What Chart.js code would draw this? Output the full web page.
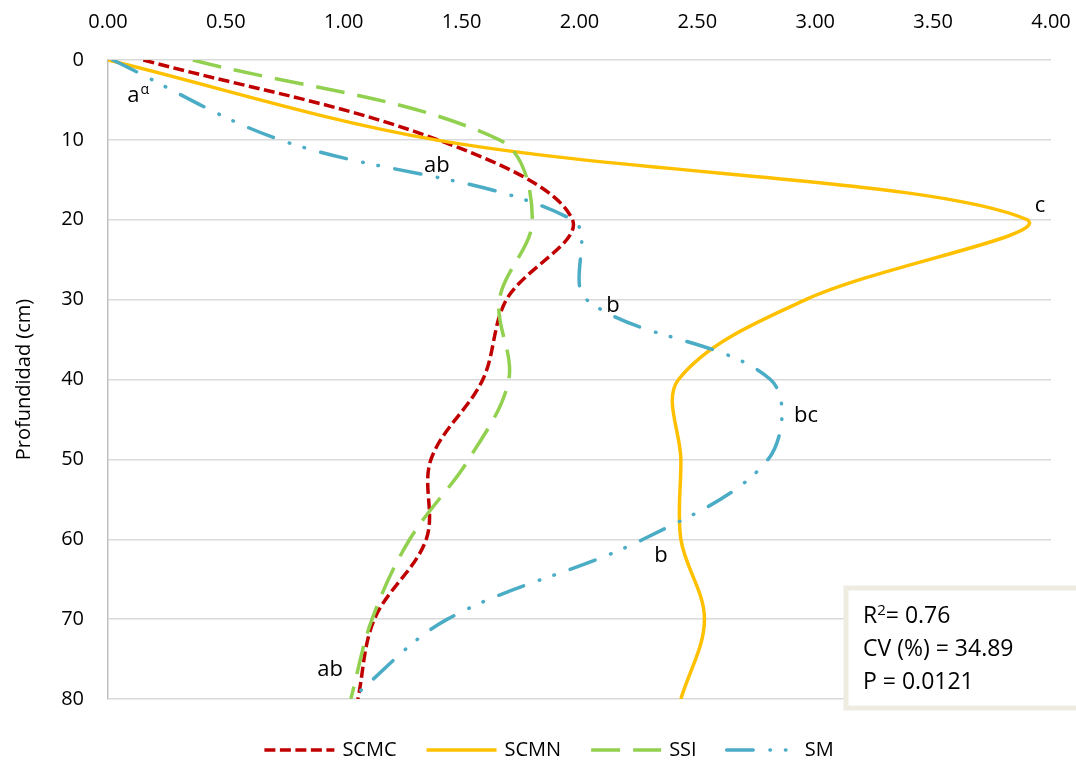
<!DOCTYPE html>
<html lang="es">
<head>
<meta charset="utf-8">
<title>Profundidad</title>
<script src="https://cdn.jsdelivr.net/npm/chart.js@4.4.1/dist/chart.umd.min.js"></script>
<style>
  html, body { margin: 0; padding: 0; background: #fff; }
  #wrap { width: 1076px; height: 760px; }
</style>
</head>
<body>
<div id="wrap"><canvas id="chart" width="1076" height="760"></canvas></div>
<script>
(function () {
  "use strict";

  // depth (cm) for every reading
  var depths = [0, 10, 20, 30, 40, 50, 60, 70, 80];

  // series values along the horizontal axis
  var scmc = [0.15, 1.40, 1.97, 1.69, 1.59, 1.37, 1.35, 1.13, 1.06];
  var scmn = [0.00, 1.39, 3.90, 2.96, 2.42, 2.43, 2.43, 2.53, 2.43];
  var ssi = [0.36, 1.66, 1.80, 1.66, 1.70, 1.53, 1.28, 1.12, 1.03];
  var sm = [0.02, 0.73, 1.97, 2.03, 2.81, 2.80, 2.27, 1.44, 1.03];

  var xTickValues = [0, 0.5, 1, 1.5, 2, 2.5, 3, 3.5, 4];
  var xTickLabels = ["0.00", "0.50", "1.00", "1.50", "2.00", "2.50", "3.00", "3.50", "4.00"];
  var depthTickValues = [0, 10, 20, 30, 40, 50, 60, 70, 80];
  var depthTickLabels = ["0", "10", "20", "30", "40", "50", "60", "70", "80"];

  // significance letters, placed in data units
  var letters = [
    { text: "a", sup: "\u03b1", x: 0.082, y: 5.3 },
    { text: "ab", x: 1.395, y: 14.0 },
    { text: "c", x: 3.953, y: 19.0 },
    { text: "b", x: 2.142, y: 31.5 },
    { text: "bc", x: 2.961, y: 45.3 },
    { text: "b", x: 2.346, y: 62.8 },
    { text: "ab", x: 0.942, y: 77.1 }
  ];

  var statLines = [
    { main: "R", sup: "2", rest: "= 0.76" },
    { main: "CV (%) = 34.89" },
    { main: "P = 0.0121" }
  ];

  var FONT = "'Open Sans', sans-serif";
  Chart.defaults.font.family = FONT;
  Chart.defaults.color = "#000";

  function series(values) {
    return values.map(function (v, i) { return { x: v, y: depths[i] }; });
  }

  var lettersPlugin = {
    id: "letters",
    afterDatasetsDraw: function (chart) {
      var ctx = chart.ctx;
      var xs = chart.scales.x;
      var ys = chart.scales.y;
      ctx.save();
      ctx.fillStyle = "#000";
      ctx.textBaseline = "alphabetic";
      letters.forEach(function (l) {
        var px = xs.getPixelForValue(l.x);
        var py = ys.getPixelForValue(l.y);
        ctx.font = "22px " + FONT;
        if (l.sup) {
          ctx.textAlign = "left";
          ctx.fillText(l.text, px, py);
          var w = ctx.measureText(l.text).width;
          ctx.font = "14px " + FONT;
          ctx.fillText(l.sup, px + w + 1, py - 8);
        } else {
          ctx.textAlign = "center";
          ctx.fillText(l.text, px, py);
        }
      });
      ctx.restore();
    }
  };

  var statsPlugin = {
    id: "statsBox",
    afterDraw: function (chart) {
      var ctx = chart.ctx;
      var area = chart.chartArea;
      var left = area.right - 205;
      var top = area.bottom - 111;
      ctx.save();
      ctx.fillStyle = "#fff";
      ctx.strokeStyle = "#EEECE1";
      ctx.lineWidth = 5;
      ctx.fillRect(left, top, 260, 120);
      ctx.strokeRect(left, top, 260, 120);
      ctx.fillStyle = "#000";
      ctx.textAlign = "left";
      ctx.textBaseline = "alphabetic";
      statLines.forEach(function (line, i) {
        var tx = left + 17;
        var ty = top + 35 + i * 33;
        ctx.font = "23px " + FONT;
        ctx.fillText(line.main, tx, ty);
        if (line.sup) {
          tx += ctx.measureText(line.main).width;
          ctx.font = "15px " + FONT;
          ctx.fillText(line.sup, tx, ty - 8);
          tx += ctx.measureText(line.sup).width;
          ctx.font = "23px " + FONT;
          ctx.fillText(line.rest, tx, ty);
        }
      });
      ctx.restore();
    }
  };

  var legendPlugin = {
    id: "bottomLegend",
    afterDraw: function (chart) {
      var ctx = chart.ctx;
      var sets = chart.data.datasets;
      var lineLen = 70, textGap = 8, itemGap = 30;
      ctx.save();
      ctx.font = "20px " + FONT;
      var total = 0;
      sets.forEach(function (ds, i) {
        total += lineLen + textGap + ctx.measureText(ds.label).width;
        if (i < sets.length - 1) total += itemGap;
      });
      var x = 549 - total / 2;
      var y = 750;
      sets.forEach(function (ds) {
        ctx.beginPath();
        ctx.strokeStyle = ds.borderColor;
        ctx.lineWidth = ds.borderWidth;
        ctx.lineCap = ds.borderCapStyle || "butt";
        ctx.setLineDash(ds.borderDash || []);
        ctx.moveTo(x, y);
        ctx.lineTo(x + lineLen, y);
        ctx.stroke();
        ctx.setLineDash([]);
        x += lineLen + textGap;
        ctx.fillStyle = "#000";
        ctx.textAlign = "left";
        ctx.textBaseline = "middle";
        ctx.fillText(ds.label, x, y);
        x += ctx.measureText(ds.label).width + itemGap;
      });
      ctx.restore();
    }
  };

  new Chart(document.getElementById("chart"), {
    type: "scatter",
    data: {
      datasets: [
        { label: "SCMC", data: series(scmc), showLine: true, borderColor: "#C00000", borderWidth: 3.5, borderDash: [11, 4.5], order: 3 },
        { label: "SCMN", data: series(scmn), showLine: true, borderColor: "#FFC000", borderWidth: 3.5, order: 2 },
        { label: "SSI", data: series(ssi), showLine: true, borderColor: "#92D050", borderWidth: 3.5, borderDash: [29, 13], order: 1 },
        { label: "SM", data: series(sm), showLine: true, borderColor: "#4BACC6", borderWidth: 3.5, borderDash: [26.5, 16.75, 0.5, 15, 0.5, 16.75], borderCapStyle: "round", order: 0 }
      ]
    },
    options: {
      responsive: false,
      animation: false,
      events: [],
      elements: {
        point: { radius: 0, hoverRadius: 0 },
        line: { tension: 0.35, fill: false }
      },
      layout: { padding: { left: 0, right: 25, top: 0, bottom: 61 } },
      plugins: {
        legend: { display: false },
        tooltip: { enabled: false }
      },
      scales: {
        x: {
          type: "linear",
          position: "top",
          min: 0,
          max: 4,
          grid: { display: false },
          border: { display: false },
          ticks: {
            stepSize: 0.5,
            autoSkip: false,
            maxRotation: 0,
            padding: 18,
            font: { size: 20 },
            color: "#000",
            callback: function (v) { return xTickLabels[xTickValues.indexOf(v)]; }
          },
          afterFit: function (scale) {
            scale.height = 60;
            scale.paddingLeft = 0;
            scale.paddingRight = 0;
          }
        },
        y: {
          type: "linear",
          reverse: true,
          min: 0,
          max: 80,
          grid: { color: "#D9D9D9", lineWidth: 1.5, drawTicks: false },
          border: { display: true, color: "#BFBFBF", width: 1.5 },
          ticks: {
            stepSize: 10,
            padding: 24,
            font: { size: 20 },
            color: "#000",
            callback: function (v) { return depthTickLabels[depthTickValues.indexOf(v)]; }
          },
          title: {
            display: true,
            text: "Profundidad (cm)",
            font: { size: 20 },
            color: "#000",
            padding: { top: 12, bottom: 0 }
          },
          afterFit: function (scale) {
            scale.width = 108;
            scale.paddingTop = 0;
            scale.paddingBottom = 0;
          }
        }
      }
    },
    plugins: [lettersPlugin, statsPlugin, legendPlugin]
  });
})();
</script>
</body>
</html>
